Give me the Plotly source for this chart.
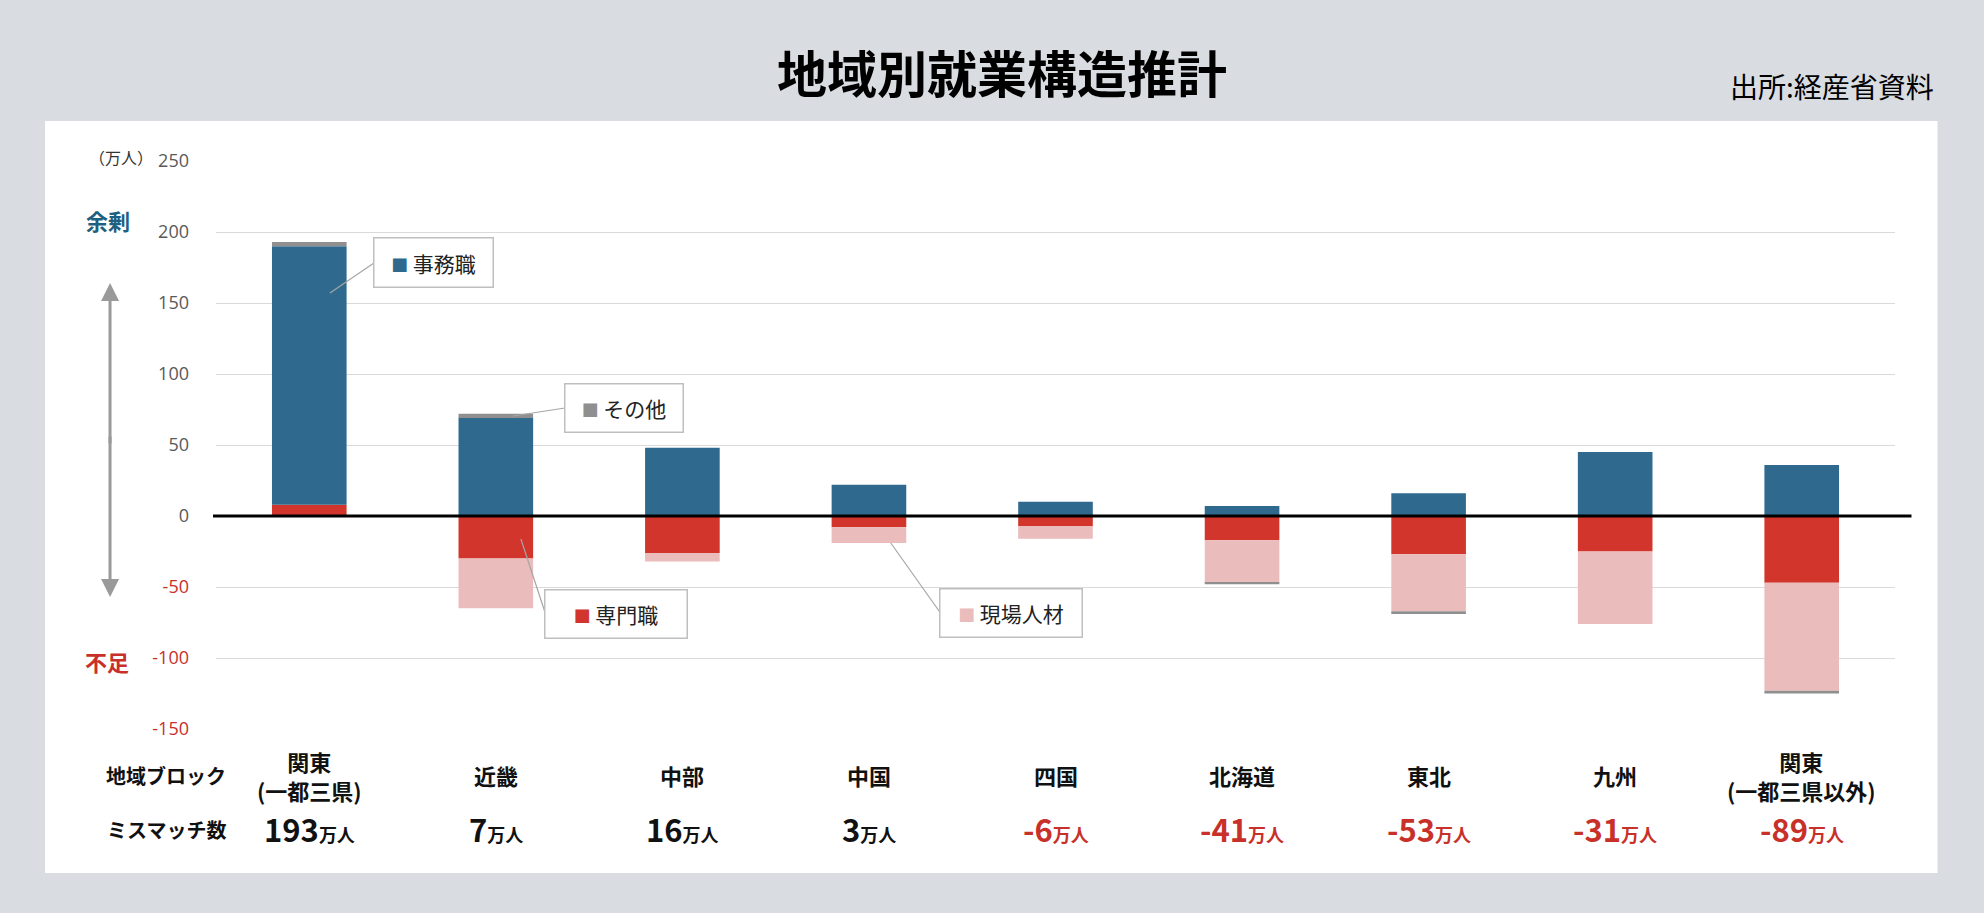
import plotly.graph_objects as go

# data (万人)
regions = ["関東<br>(一都三県)", "近畿", "中部", "中国", "四国", "北海道", "東北", "九州", "関東<br>(一都三県以外)"]
senmon = [8, -30, -26, -8, -7, -17, -27, -25, -47]      # 専門職
jimu = [182, 69, 48, 22, 10, 7, 16, 45, 36]             # 事務職
genba = [0, -35, -6, -11, -9, -30, -40, -51, -76]       # 現場人材
sonota = [3, 3, 0, 0, 0, -1, -2, 0, -2]                 # その他
mismatch = [193, 7, 16, 3, -6, -41, -53, -31, -89]
yticks = [250, 200, 150, 100, 50, 0, -50, -100, -150]

BLUE = "#2f6a8e"
RED = "#d1352b"
PINK = "#ebbcbc"
GRAY = "#8f8f8f"
NEG = "#c8302a"
JP = "Noto Sans CJK JP"

W, H = 1984, 913
L, R, T, B = 216, 1895.5, 161, 729


# pixel -> paper helpers for the decorations
def px(x):
    return (x - L) / (R - L)


def py(y):
    return (B - y) / (B - T)


fig = go.Figure()
for name, vals, col in [("専門職", senmon, RED), ("事務職", jimu, BLUE),
                        ("現場人材", genba, PINK), ("その他", sonota, GRAY)]:
    fig.add_trace(go.Bar(x=regions, y=vals, name=name, marker_color=col,
                         marker_line_width=0, width=0.4))

ticktext = [f"<span style='color:{NEG}'>{v}</span>" if v < 0 else str(v) for v in yticks]

fig.update_layout(
    width=W, height=H,
    barmode="relative",
    showlegend=False,
    paper_bgcolor="#d9dde1",
    plot_bgcolor="white",
    margin=dict(l=L, r=W - R, t=T, b=H - B),
    font=dict(family=JP, color="#222"),
    xaxis=dict(showticklabels=False, showgrid=False, zeroline=False),
    yaxis=dict(range=[-150, 250], tickvals=yticks, ticktext=ticktext,
               gridcolor="#dadada", gridwidth=1, zeroline=False,
               tickfont=dict(family="Open Sans", size=18, color="#595959"),
               ticklabelstandoff=26),
)


def note(x, y, text, size, color="#111", **kw):
    fig.add_annotation(xref="paper", yref="paper", x=px(x), y=py(y), text=text,
                       showarrow=False, xanchor=kw.pop("xanchor", "center"),
                       yanchor="middle", font=dict(size=size, color=color), **kw)


# white panel + zero line
fig.add_shape(type="rect", xref="paper", yref="paper", x0=px(45), x1=px(1938),
              y0=py(873), y1=py(121), fillcolor="white", line_width=0, layer="below")
fig.add_shape(type="line", xref="paper", yref="y", x0=px(213), x1=px(1912), y0=0, y1=0,
              line=dict(color="black", width=3))

# title / source
note(1002, 71, "<b>地域別就業構造推計</b>", 50, "black")
note(1937, 86, "出所:経産省資料", 28, "black", xanchor="right")

# axis side texts
note(121, 157, "（万人）", 16, "#333")
note(108, 220, "<b>余剰</b>", 22, "#1f5f80")
note(107, 661, "<b>不足</b>", 22, NEG)
for tip, ay in [(283, 162), (597, -162)]:
    fig.add_annotation(xref="paper", yref="paper", x=px(110), y=py(tip), ax=0, ay=ay,
                       text="", showarrow=True, arrowhead=2, arrowsize=1.2,
                       arrowwidth=3, arrowcolor="#9a9a9a")

# callout boxes with leader lines
callouts = [
    ("事務職", BLUE, (434, 262), 120, 50, (330, 293), (374, 263)),
    ("その他", GRAY, (624.5, 407.5), 119, 49, (513, 416), (565, 408)),
    ("専門職", RED, (616.5, 613.5), 143, 49, (521, 539), (545, 612)),
    ("現場人材", PINK, (1011.5, 612.5), 143, 49, (891, 543), (940, 612)),
]
for label, col, (cx, cy), bw, bh, p0, p1 in callouts:
    fig.add_shape(type="line", xref="paper", yref="paper", x0=px(p0[0]), y0=py(p0[1]),
                  x1=px(p1[0]), y1=py(p1[1]), line=dict(color="#a6a6a6", width=1.2))
    note(cx, cy, f"<span style='color:{col};font-size:17px'>■</span> {label}", 21, "#222",
         width=bw - 4, height=bh - 4, bgcolor="white", bordercolor="#bfbfbf",
         borderwidth=1.5, borderpad=1)

# bottom table
note(166, 775, "<b>地域ブロック</b>", 20)
note(166, 829, "<b>ミスマッチ数</b>", 20)
for reg, m in zip(regions, mismatch):
    fig.add_annotation(x=reg, xref="x", yref="paper", y=py(775), showarrow=False,
                       xanchor="center", yanchor="middle",
                       text=f"<b>{reg}</b>", font=dict(size=22, color="#111"))
    col = NEG if m < 0 else "#111"
    fig.add_annotation(x=reg, xref="x", yref="paper", y=py(828), showarrow=False,
                       xanchor="center", yanchor="middle",
                       text=f"<b>{m}</b><span style='font-size:18px'><b>万人</b></span>",
                       font=dict(size=31, color=col))

# drop the default body margin so the figure fills the window
fig.write_html("out.html", config={"displayModeBar": False},
               post_script="document.body.style.margin='0';")
